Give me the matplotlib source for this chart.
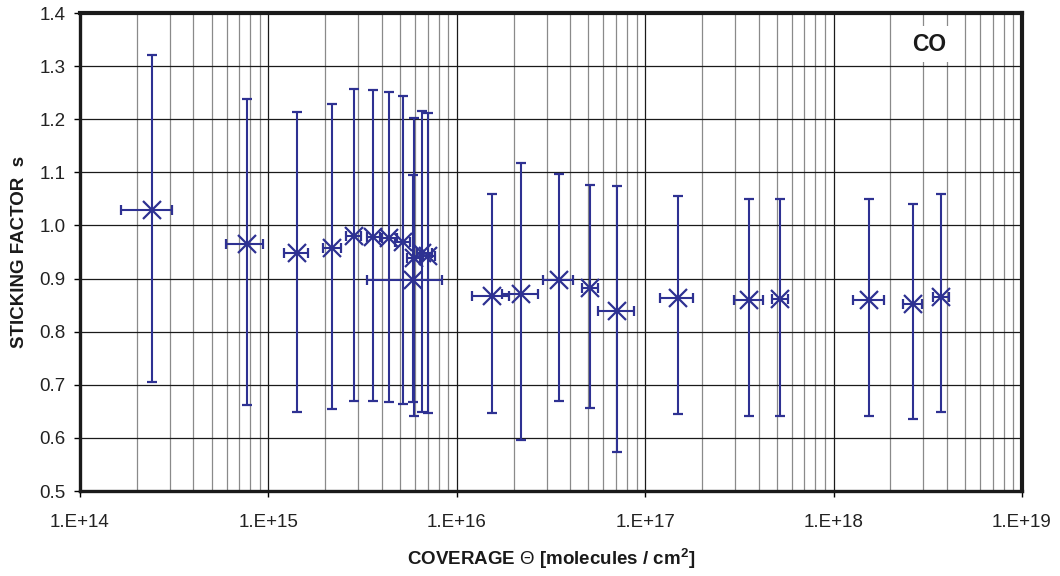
import matplotlib
matplotlib.use("Agg")
import matplotlib.pyplot as plt
from matplotlib.ticker import LogLocator, FixedLocator, FuncFormatter, NullFormatter

plt.rcParams['font.family'] = ['Liberation Sans', 'DejaVu Sans']
plt.rcParams['mathtext.fontset'] = 'custom'
plt.rcParams['mathtext.rm'] = 'Liberation Sans'
plt.rcParams['mathtext.bf'] = 'Liberation Sans:bold'

# Coverage (molecules / cm^2) and its lower / upper bounds
coverage = [2.41e14, 7.69e14, 1.42e15, 2.17e15, 2.85e15, 3.60e15, 4.38e15, 5.16e15,
            5.93e15, 5.87e15, 6.56e15, 7.06e15, 1.543e16, 2.19e16, 3.50e16, 5.09e16,
            7.11e16, 1.488e17, 3.57e17, 5.19e17, 1.547e18, 2.63e18, 3.72e18]
coverage_lo = [1.65e14, 5.93e14, 1.21e15, 1.94e15, 2.57e15, 3.35e15, 3.99e15, 4.70e15,
               5.42e15, 3.33e15, 6.15e15, 6.62e15, 1.209e16, 1.73e16, 2.88e16, 4.60e16,
               5.60e16, 1.198e17, 2.96e17, 4.69e17, 1.263e18, 2.344e18, 3.38e18]
coverage_hi = [3.08e14, 9.40e14, 1.63e15, 2.43e15, 3.10e15, 3.91e15, 4.80e15, 5.64e15,
               6.38e15, 8.31e15, 7.38e15, 7.66e15, 1.90e16, 2.69e16, 4.15e16, 5.64e16,
               8.72e16, 1.787e17, 4.20e17, 5.75e17, 1.858e18, 2.935e18, 4.11e18]
# Sticking factor and its lower / upper bounds
sticking = [1.030, 0.965, 0.948, 0.957, 0.980, 0.978, 0.976, 0.968, 0.938, 0.897, 0.948,
            0.943, 0.867, 0.870, 0.897, 0.882, 0.839, 0.864, 0.860, 0.861, 0.860, 0.852, 0.866]
sticking_lo = [0.705, 0.662, 0.648, 0.655, 0.670, 0.669, 0.668, 0.663, 0.641, 0.668, 0.649,
               0.646, 0.647, 0.596, 0.669, 0.656, 0.573, 0.645, 0.642, 0.642, 0.642, 0.636, 0.649]
sticking_hi = [1.321, 1.238, 1.214, 1.228, 1.257, 1.255, 1.252, 1.243, 1.202, 1.095, 1.216,
               1.211, 1.059, 1.118, 1.097, 1.076, 1.074, 1.056, 1.050, 1.050, 1.050, 1.040, 1.059]

y_ticks = [0.5, 0.6, 0.7, 0.8, 0.9, 1.0, 1.1, 1.2, 1.3, 1.4]
x_ticks = [1e14, 1e15, 1e16, 1e17, 1e18, 1e19]
x_tick_labels = ["1.E+14", "1.E+15", "1.E+16", "1.E+17", "1.E+18", "1.E+19"]

color = '#2E3192'

fig = plt.figure(figsize=(10.6, 5.76), dpi=100)
ax = fig.add_axes([80/1060, 1 - 491/576, (1022-80)/1060, (491-13)/576])

xerr = [[c - lo for c, lo in zip(coverage, coverage_lo)],
        [hi - c for c, hi in zip(coverage, coverage_hi)]]
yerr = [[s - lo for s, lo in zip(sticking, sticking_lo)],
        [hi - s for s, hi in zip(sticking, sticking_hi)]]

ax.errorbar(coverage, sticking, xerr=xerr, yerr=yerr, fmt='x', color=color,
            ecolor=color, elinewidth=1.5, capsize=3.6, capthick=1.5,
            markersize=13, markeredgewidth=1.6, zorder=3)

ax.set_xscale('log')
ax.set_xlim(1e14, 1e19)
ax.set_ylim(0.5, 1.4)
ax.xaxis.set_major_locator(FixedLocator(x_ticks))
ax.xaxis.set_major_formatter(FuncFormatter(lambda v, p: x_tick_labels[x_ticks.index(v)] if v in x_ticks else ""))
ax.xaxis.set_minor_locator(LogLocator(base=10, subs=range(2, 10), numticks=100))
ax.xaxis.set_minor_formatter(NullFormatter())
ax.set_yticks(y_ticks)
ax.set_yticklabels([f"{v:.1f}" for v in y_ticks])

ax.grid(True, which='major', axis='both', color='#1a1a1a', linewidth=0.9, zorder=0)
ax.grid(True, which='minor', axis='x', color='#8a8a8a', linewidth=0.9, zorder=0)
ax.set_axisbelow(True)

ax.tick_params(axis='both', which='major', direction='out', length=4.5, width=1,
               labelsize=13.5, pad=6, labelcolor='#222222')
ax.tick_params(axis='x', which='minor', length=0)
ax.tick_params(axis='x', which='major', pad=12)

for s in ['left', 'bottom']:
    ax.spines[s].set_linewidth(2.4)
for s in ['top', 'right']:
    ax.spines[s].set_linewidth(3.0)
for s in ax.spines.values():
    s.set_color('#1a1a1a')

ax.set_ylabel("STICKING FACTOR  s", fontsize=13.5, fontweight='bold', labelpad=8,
              color='#1a1a1a')
ax.set_xlabel(r"COVERAGE $\Theta$ [molecules / cm$^{\mathbf{2}}$]", fontsize=13.5,
              fontweight='bold', labelpad=11, color='#1a1a1a')

ax.text(0.902, 0.935, "CO", transform=ax.transAxes, fontsize=16.5, fontweight='bold',
        ha='center', va='center', zorder=5, color='#1a1a1a',
        bbox=dict(boxstyle='square,pad=0.3', facecolor='white', edgecolor='none'))

fig.savefig("out.png", dpi=100)
